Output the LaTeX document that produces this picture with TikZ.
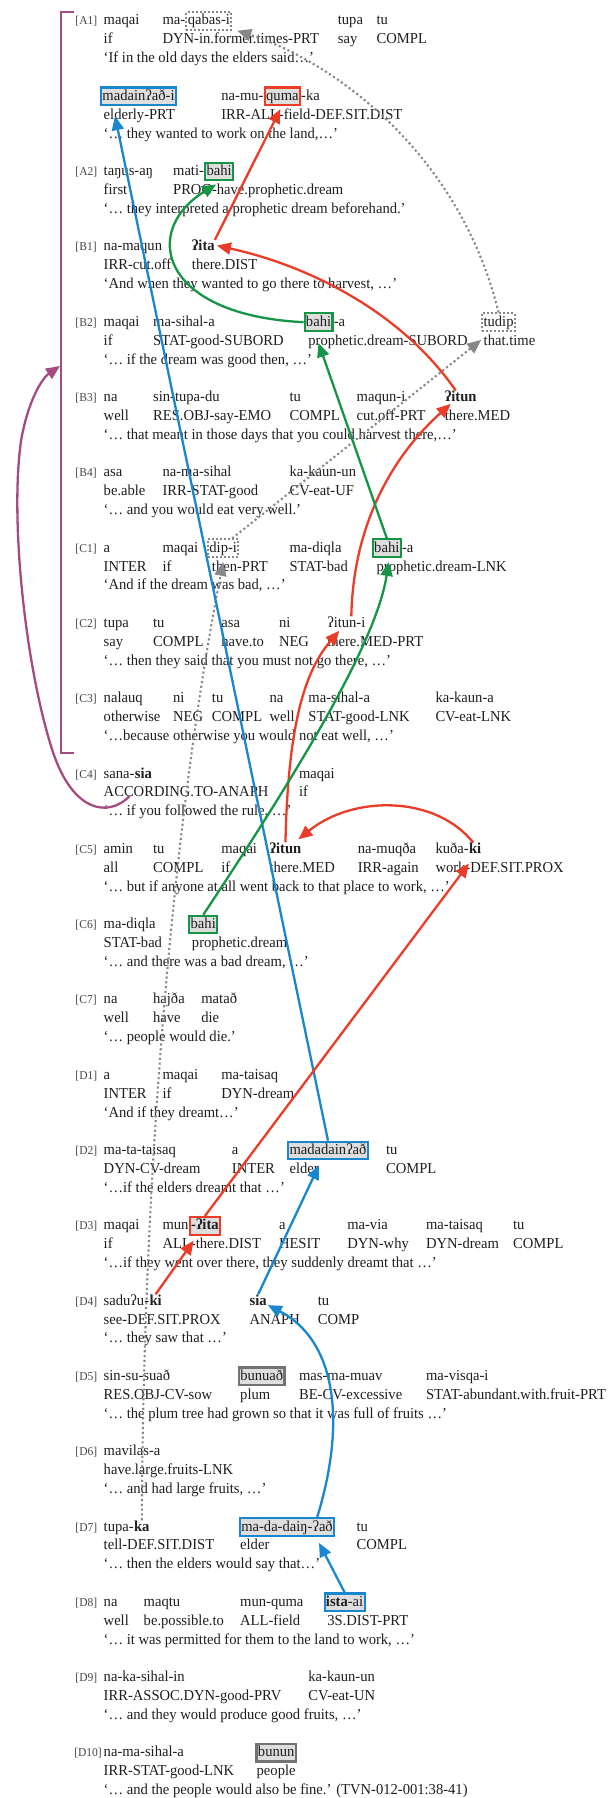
\documentclass[tikz,border=0pt]{standalone}
\usepackage{fontspec}
\setmainfont{Liberation Serif}[FakeStretch=0.96]
\usetikzlibrary{arrows.meta}
\definecolor{txt}{RGB}{30,30,30}
\definecolor{labc}{RGB}{70,70,70}
\definecolor{cblue}{RGB}{25,135,205}
\definecolor{cred}{RGB}{235,60,40}
\definecolor{cgreen}{RGB}{20,150,70}
\definecolor{cpurple}{RGB}{165,75,130}
\definecolor{cdot}{RGB}{135,135,135}
\definecolor{boxfill}{RGB}{222,222,222}
\definecolor{cgreyb}{RGB}{115,115,115}
\newcommand\tx{\fontsize{15.2pt}{17pt}\selectfont}
\newcommand\lb{\fontsize{12pt}{13pt}\selectfont}
\tikzset{
  w/.style={anchor=base west, inner sep=0pt, font=\tx, text=txt},
  lab/.style={anchor=base west, inner sep=0pt, font=\lb, text=labc},
  bx/.style={anchor=base west, inner xsep=1.4pt, inner ysep=1.5pt, text height=11.3pt, text depth=3.3pt, fill=boxfill, line width=2.1pt, font=\tx, text=txt},
  bbox/.style={bx, draw=cblue},
  rbox/.style={bx, draw=cred},
  gbox/.style={bx, draw=cgreen},
  kbox/.style={bx, draw=cgreyb, line width=2.5pt},
  dbox/.style={anchor=base west, inner xsep=1.4pt, inner ysep=1.5pt, text height=11.3pt, text depth=3.3pt, draw=cdot, line width=1.9pt, dash pattern=on 2pt off 2pt, font=\tx, text=txt},
  arr/.style={line width=2.3pt, -{Triangle[length=14pt,width=12pt]}},
  arrB/.style={arr, draw=cblue},
  arrR/.style={arr, draw=cred},
  arrG/.style={arr, draw=cgreen},
  arrD/.style={line width=2.1pt, draw=cdot, dash pattern=on 2.1pt off 2.7pt, -{Triangle[length=14pt,width=12pt]}},
  arrP/.style={arr, draw=cpurple}
}
\begin{document}
\begin{tikzpicture}[x=1.1765pt,y=-1pt]
\useasboundingbox (0,0) rectangle (522.75,1798);
% A1a
\begin{scope}[yshift=0pt]
\node[lab] at (64,25) {[A1]};
\node[w] at (88,25) {maqai};
\node[w] (a1ma) at (138,25) {ma-};
\node[dbox] (q1) at (a1ma.base east) {qabas-i};
\node[w] at (287,25) {tupa};
\node[w] at (320,25) {tu};
\node[w] at (88,43.9) {if};
\node[w] at (138,43.9) {DYN-in.former.times-PRT};
\node[w] at (287,43.9) {say};
\node[w] at (320,43.9) {COMPL};
\node[w] at (88,62.8) {‘If in the old days the elders said…’};
\end{scope}
% A1b
\begin{scope}[yshift=-75.3pt]
\node[bbox] (mad1) at (85,25) {madainʔað-i};
\node[w] (nm) at (188,25) {na-mu-};
\node[rbox] (quma1) at (nm.base east) {quma};
\node[w] at (quma1.base east) {-ka};
\node[w] at (88,43.9) {elderly-PRT};
\node[w] at (188,43.9) {IRR-ALL-field-DEF.SIT.DIST};
\node[w] at (88,62.8) {‘… they wanted to work on the land,…’};
\end{scope}
% A2
\begin{scope}[yshift=-150.6pt]
\node[lab] at (64,25) {[A2]};
\node[w] at (88,25) {taŋus-aŋ};
\node[w] (mt) at (147,25) {mati-};
\node[gbox] (bahiA2) at (mt.base east) {bahi};
\node[w] at (88,43.9) {first};
\node[w] at (147,43.9) {PROG-have.prophetic.dream};
\node[w] at (88,62.8) {‘… they interpreted a prophetic dream beforehand.’};
\end{scope}
% B1
\begin{scope}[yshift=-225.9pt]
\node[lab] at (64,25) {[B1]};
\node[w] at (88,25) {na-maqun};
\node[w] (ita1) at (163,25) {\textbf{ʔita}};
\node[w] at (88,43.9) {IRR-cut.off};
\node[w] at (163,43.9) {there.DIST};
\node[w] at (88,62.8) {‘And when they wanted to go there to harvest, …’};
\end{scope}
% B2
\begin{scope}[yshift=-301.2pt]
\node[lab] at (64,25) {[B2]};
\node[w] at (88,25) {maqai};
\node[w] at (130,25) {ma-sihal-a};
\node[gbox] (bahiB2) at (258,25) {bahi};
\node[w] at (bahiB2.base east) {-a};
\node[dbox] (tudip) at (409,25) {tudip};
\node[w] at (88,43.9) {if};
\node[w] at (130,43.9) {STAT-good-SUBORD};
\node[w] at (262,43.9) {prophetic.dream-SUBORD};
\node[w] at (411,43.9) {that.time};
\node[w] at (88,62.8) {‘… if the dream was good then, …’};
\end{scope}
% B3
\begin{scope}[yshift=-376.5pt]
\node[lab] at (64,25) {[B3]};
\node[w] at (88,25) {na};
\node[w] at (130,25) {sin-tupa-du};
\node[w] at (246,25) {tu};
\node[w] at (303,25) {maqun-i};
\node[w] (itunB3) at (378,25) {\textbf{ʔitun}};
\node[w] at (88,43.9) {well};
\node[w] at (130,43.9) {RES.OBJ-say-EMO};
\node[w] at (246,43.9) {COMPL};
\node[w] at (303,43.9) {cut.off-PRT};
\node[w] at (378,43.9) {there.MED};
\node[w] at (88,62.8) {‘… that meant in those days that you could harvest there,…’};
\end{scope}
% B4
\begin{scope}[yshift=-451.8pt]
\node[lab] at (64,25) {[B4]};
\node[w] at (88,25) {asa};
\node[w] at (138,25) {na-ma-sihal};
\node[w] at (246,25) {ka-kaun-un};
\node[w] at (88,43.9) {be.able};
\node[w] at (138,43.9) {IRR-STAT-good};
\node[w] at (246,43.9) {CV-eat-UF};
\node[w] at (88,62.8) {‘… and you would eat very well.’};
\end{scope}
% C1
\begin{scope}[yshift=-527.1pt]
\node[lab] at (64,25) {[C1]};
\node[w] at (88,25) {a};
\node[w] at (138,25) {maqai};
\node[dbox] (dipi) at (176,25) {dip-i};
\node[w] at (246,25) {ma-diqla};
\node[gbox] (bahiC1) at (316,25) {bahi};
\node[w] at (bahiC1.base east) {-a};
\node[w] at (88,43.9) {INTER};
\node[w] at (138,43.9) {if};
\node[w] at (180,43.9) {then-PRT};
\node[w] at (246,43.9) {STAT-bad};
\node[w] at (320,43.9) {prophetic.dream-LNK};
\node[w] at (88,62.8) {‘And if the dream was bad, …’};
\end{scope}
% C2
\begin{scope}[yshift=-602.4pt]
\node[lab] at (64,25) {[C2]};
\node[w] at (88,25) {tupa};
\node[w] at (130,25) {tu};
\node[w] at (188,25) {asa};
\node[w] at (237,25) {ni};
\node[w] (itunC2) at (278,25) {ʔitun-i};
\node[w] at (88,43.9) {say};
\node[w] at (130,43.9) {COMPL};
\node[w] at (188,43.9) {have.to};
\node[w] at (237,43.9) {NEG};
\node[w] at (278,43.9) {there.MED-PRT};
\node[w] at (88,62.8) {‘… then they said that you must not go there, …’};
\end{scope}
% C3
\begin{scope}[yshift=-677.7pt]
\node[lab] at (64,25) {[C3]};
\node[w] at (88,25) {nalauq};
\node[w] at (147,25) {ni};
\node[w] at (180,25) {tu};
\node[w] at (229,25) {na};
\node[w] at (262,25) {ma-sihal-a};
\node[w] at (370,25) {ka-kaun-a};
\node[w] at (88,43.9) {otherwise};
\node[w] at (147,43.9) {NEG};
\node[w] at (180,43.9) {COMPL};
\node[w] at (229,43.9) {well};
\node[w] at (262,43.9) {STAT-good-LNK};
\node[w] at (370,43.9) {CV-eat-LNK};
\node[w] at (88,62.8) {‘…because otherwise you would not eat well, …’};
\end{scope}
% C4
\begin{scope}[yshift=-753pt]
\node[lab] at (64,25) {[C4]};
\node[w] (sana) at (88,25) {sana-};
\node[w] (siaC4) at (sana.base east) {\textbf{sia}};
\node[w] at (254,25) {maqai};
\node[w] at (88,43.9) {ACCORDING.TO-ANAPH};
\node[w] at (254,43.9) {if};
\node[w] at (88,62.8) {‘… if you followed the rule, …’};
\end{scope}
% C5
\begin{scope}[yshift=-828.3pt]
\node[lab] at (64,25) {[C5]};
\node[w] at (88,25) {amin};
\node[w] at (130,25) {tu};
\node[w] at (188,25) {maqai};
\node[w] (itunC5) at (229,25) {\textbf{ʔitun}};
\node[w] at (304,25) {na-muqða};
\node[w] (kuda) at (370,25) {kuða-};
\node[w] (kiC5) at (kuda.base east) {\textbf{ki}};
\node[w] at (88,43.9) {all};
\node[w] at (130,43.9) {COMPL};
\node[w] at (188,43.9) {if};
\node[w] at (229,43.9) {there.MED};
\node[w] at (304,43.9) {IRR-again};
\node[w] at (370,43.9) {work-DEF.SIT.PROX};
\node[w] at (88,62.8) {‘… but if anyone at all went back to that place to work, …’};
\end{scope}
% C6
\begin{scope}[yshift=-903.6pt]
\node[lab] at (64,25) {[C6]};
\node[w] at (88,25) {ma-diqla};
\node[gbox] (bahiC6) at (160,25) {bahi};
\node[w] at (88,43.9) {STAT-bad};
\node[w] at (163,43.9) {prophetic.dream};
\node[w] at (88,62.8) {‘… and there was a bad dream, …’};
\end{scope}
% C7
\begin{scope}[yshift=-978.9pt]
\node[lab] at (64,25) {[C7]};
\node[w] at (88,25) {na};
\node[w] at (130,25) {hajða};
\node[w] at (171,25) {matað};
\node[w] at (88,43.9) {well};
\node[w] at (130,43.9) {have};
\node[w] at (171,43.9) {die};
\node[w] at (88,62.8) {‘… people would die.’};
\end{scope}
% D1
\begin{scope}[yshift=-1054.2pt]
\node[lab] at (64,25) {[D1]};
\node[w] at (88,25) {a};
\node[w] at (138,25) {maqai};
\node[w] at (188,25) {ma-taisaq};
\node[w] at (88,43.9) {INTER};
\node[w] at (138,43.9) {if};
\node[w] at (188,43.9) {DYN-dream};
\node[w] at (88,62.8) {‘And if they dreamt…’};
\end{scope}
% D2
\begin{scope}[yshift=-1129.5pt]
\node[lab] at (64,25) {[D2]};
\node[w] at (88,25) {ma-ta-taisaq};
\node[w] at (197,25) {a};
\node[bbox] (madD2) at (244,25) {madadainʔað};
\node[w] at (328,25) {tu};
\node[w] at (88,43.9) {DYN-CV-dream};
\node[w] at (197,43.9) {INTER};
\node[w] at (246,43.9) {elder};
\node[w] at (328,43.9) {COMPL};
\node[w] at (88,62.8) {‘…if the elders dreamt that …’};
\end{scope}
% D3
\begin{scope}[yshift=-1204.8pt]
\node[lab] at (64,25) {[D3]};
\node[w] at (88,25) {maqai};
\node[w] (mun) at (138,25) {mun};
\node[rbox] (itaD3) at (mun.base east) {\textbf{-ʔita}};
\node[w] at (237,25) {a};
\node[w] at (295,25) {ma-via};
\node[w] at (362,25) {ma-taisaq};
\node[w] at (436,25) {tu};
\node[w] at (88,43.9) {if};
\node[w] at (138,43.9) {ALL-there.DIST};
\node[w] at (237,43.9) {HESIT};
\node[w] at (295,43.9) {DYN-why};
\node[w] at (362,43.9) {DYN-dream};
\node[w] at (436,43.9) {COMPL};
\node[w] at (88,62.8) {‘…if they went over there, they suddenly dreamt that …’};
\end{scope}
% D4
\begin{scope}[yshift=-1280.1pt]
\node[lab] at (64,25) {[D4]};
\node[w] (sadu) at (88,25) {saduʔu-};
\node[w] (kiD4) at (sadu.base east) {\textbf{ki}};
\node[w] (siaD4) at (212,25) {\textbf{sia}};
\node[w] at (270,25) {tu};
\node[w] at (88,43.9) {see-DEF.SIT.PROX};
\node[w] at (212,43.9) {ANAPH};
\node[w] at (270,43.9) {COMP};
\node[w] at (88,62.8) {‘… they saw that …’};
\end{scope}
% D5
\begin{scope}[yshift=-1355.4pt]
\node[lab] at (64,25) {[D5]};
\node[w] at (88,25) {sin-su-suað};
\node[kbox] (bunuad) at (202,25) {bunuað};
\node[w] at (254,25) {mas-ma-muav};
\node[w] at (362,25) {ma-visqa-i};
\node[w] at (88,43.9) {RES.OBJ-CV-sow};
\node[w] at (204,43.9) {plum};
\node[w] at (254,43.9) {BE-CV-excessive};
\node[w] at (362,43.9) {STAT-abundant.with.fruit-PRT};
\node[w] at (88,62.8) {‘… the plum tree had grown so that it was full of fruits …’};
\end{scope}
% D6
\begin{scope}[yshift=-1430.7pt]
\node[lab] at (64,25) {[D6]};
\node[w] at (88,25) {mavilas-a};
\node[w] at (88,43.9) {have.large.fruits-LNK};
\node[w] at (88,62.8) {‘… and had large fruits, …’};
\end{scope}
% D7
\begin{scope}[yshift=-1506pt]
\node[lab] at (64,25) {[D7]};
\node[w] (tupa) at (88,25) {tupa-};
\node[w] (kaD7) at (tupa.base east) {\textbf{ka}};
\node[bbox] (madD7) at (203,25) {ma-da-daiŋ-ʔað};
\node[w] at (303,25) {tu};
\node[w] at (88,43.9) {tell-DEF.SIT.DIST};
\node[w] at (204,43.9) {elder};
\node[w] at (303,43.9) {COMPL};
\node[w] at (88,62.8) {‘… then the elders would say that…’};
\end{scope}
% D8
\begin{scope}[yshift=-1581.3pt]
\node[lab] at (64,25) {[D8]};
\node[w] at (88,25) {na};
\node[w] at (122,25) {maqtu};
\node[w] at (204,25) {mun-quma};
\node[bbox] (istaD8) at (275,25) {\textbf{ista}-ai};
\node[w] at (88,43.9) {well};
\node[w] at (122,43.9) {be.possible.to};
\node[w] at (204,43.9) {ALL-field};
\node[w] at (278,43.9) {3S.DIST-PRT};
\node[w] at (88,62.8) {‘… it was permitted for them to the land to work, …’};
\end{scope}
% D9
\begin{scope}[yshift=-1656.6pt]
\node[lab] at (64,25) {[D9]};
\node[w] at (88,25) {na-ka-sihal-in};
\node[w] at (262,25) {ka-kaun-un};
\node[w] at (88,43.9) {IRR-ASSOC.DYN-good-PRV};
\node[w] at (262,43.9) {CV-eat-UN};
\node[w] at (88,62.8) {‘… and they would produce good fruits, …’};
\end{scope}
% D10
\begin{scope}[yshift=-1731.9pt]
\node[lab] at (63,25) {[D10]};
\node[w] at (88,25) {na-ma-sihal-a};
\node[kbox] (bunun) at (217,25) {bunun};
\node[w] at (88,43.9) {IRR-STAT-good-LNK};
\node[w] at (218,43.9) {people};
\node[w] at (88,62.8) {‘… and the people would also be fine.’ (TVN-012-001:38-41)};
\end{scope}

% bracket
\coordinate (brtop) at (63,12);
\coordinate (brbot) at (63,753);
\draw[cpurple, line width=2.1pt] (brtop) -- (52,12) -- (52,753) -- (brbot);
\coordinate (brk) at (51,366);
\coordinate (pstart) at ([xshift=-5pt,yshift=-18pt]siaC4.base west);
\draw[arrP] (pstart) .. controls (92,818) and (62,812) .. (45,752)
  .. controls (22,670) and (8,520) .. (18,440)
  .. controls (24,400) and (36,378) .. (brk);

% grey dotted
\draw[arrD] (tudip.north) .. controls (390,150) and (280,60) .. ([xshift=5pt]q1.south east);
\draw[arrD] ([xshift=9pt]dipi.north) -- ([yshift=-8pt]tudip.south west);
\draw[arrD] (kaD7.north) .. controls (122,1150) and (150,800) .. ([yshift=-4pt]dipi.south);

% blue
\draw[arrB] (madD2.north) -- ([xshift=15pt,yshift=-10pt]mad1.south west);
\draw[arrB] (siaD4.north) -- ([xshift=-9pt,yshift=-5pt]madD2.south);
\draw[arrB] ([xshift=-18pt]madD7.north east) .. controls (295,1420) and (285,1340) .. ([xshift=1pt]siaD4.base east);
\draw[arrB] (istaD8.north) -- ([xshift=32pt,yshift=-6pt]madD7.south);

% red
\draw[arrR] (ita1.north east) -- ([xshift=-2pt,yshift=-3pt]quma1.south);
\draw[arrR] ([xshift=-5pt]itunB3.north) .. controls (340,310) and (260,265) .. ([xshift=2pt]ita1.east);
\draw[arrR] ([xshift=5pt]itunC2.north) .. controls (300,530) and (330,460) .. ([xshift=6pt,yshift=-2pt]itunB3.south west);
\draw[arrR] (itunC5.north) .. controls (245,720) and (260,670) .. ([xshift=-7pt,yshift=-3pt]itunC2.south);
\draw[arrR] ([xshift=-2pt]kiC5.north) .. controls (370,795) and (300,795) .. ([xshift=-3pt,yshift=3pt]itunC5.north east);
\draw[arrR] (kiD4.north) -- ([xshift=5pt,yshift=-5pt]itaD3.south west);
\draw[arrR] (itaD3.north) -- ([yshift=-10pt]kiC5.south west);

% green
\draw[arrG] (bahiB2.west) .. controls (135,315) and (120,230) .. ([xshift=12pt,yshift=-3pt]bahiA2.south west);
\draw[arrG] (bahiC1.north) -- ([yshift=-11pt]bahiB2.south);
\draw[arrG] (bahiC6.north) .. controls (260,760) and (320,640) .. ([xshift=2pt,yshift=-4pt]bahiC1.south);
\end{tikzpicture}
\end{document}
